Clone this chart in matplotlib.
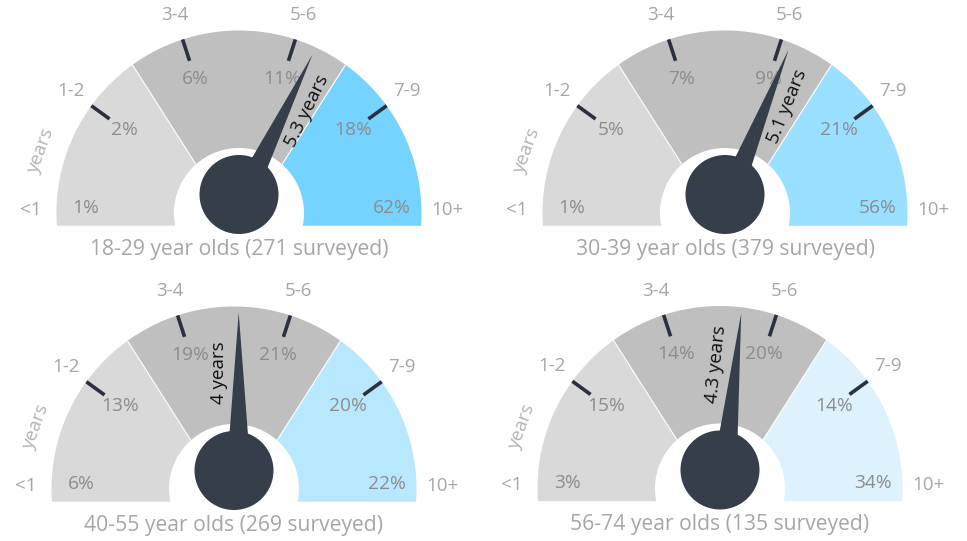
import numpy as np
import matplotlib
matplotlib.use('Agg')
import matplotlib.pyplot as plt
from matplotlib.patches import Polygon, Circle

# data
groups = ['18-29 year olds (271 surveyed)', '30-39 year olds (379 surveyed)',
          '40-55 year olds (269 surveyed)', '56-74 year olds (135 surveyed)']
categories = ['<1', '1-2', '3-4', '5-6', '7-9', '10+']
pct_1829 = [1, 2, 6, 11, 18, 62]
pct_3039 = [1, 5, 7, 9, 21, 56]
pct_4055 = [6, 13, 19, 21, 20, 22]
pct_5674 = [3, 15, 14, 20, 14, 34]
avg_years = [5.3, 5.1, 4.0, 4.3]
avg_labels = ['5.3 years', '5.1 years', '4 years', '4.3 years']

plt.rcParams['font.family'] = ['Open Sans', 'DejaVu Sans']

LIGHT = '#d9d9d9'
MID = '#bfbfbf'
BLUES = ['#75d3ff', '#99dfff', '#b8e8ff', '#ddf2fc']
DARK = '#353e49'
TICK = '#2b3040'
PCT_COL = '#8c8c8c'
LAB_COL = '#a6a6a6'

R_OUT, R_IN = 182.5, 65
CUT = 12.7         # ring runs a bit below its centre, cut flat
DROP = 19          # sector borders radiate from a point below the centre
HUB_UP, HUB_R = 18.5, 39.5
NEEDLE_LEN, NEEDLE_HW, NEEDLE_OFF = 158, 12, 4.7


def years_to_angle(y):
    # gauge scale: 4 years straight up, ~20 degrees per year
    return 90 - (y - 4) * 20


def ring_xy(cx, cy):
    a_out = np.degrees(np.arcsin(CUT / R_OUT))
    a_in = np.degrees(np.arcsin(CUT / R_IN))
    t_out = np.radians(np.linspace(-a_out, 180 + a_out, 300))
    t_in = np.radians(np.linspace(180 + a_in, -a_in, 150))
    xs = np.r_[cx + R_OUT * np.cos(t_out), cx + R_IN * np.cos(t_in)]
    ys = np.r_[cy + R_OUT * np.sin(t_out), cy + R_IN * np.sin(t_in)]
    return np.column_stack([xs, ys])


def fan(px, py, a0, a1, r=500):
    t = np.radians(np.linspace(a0, a1, 50))
    return np.r_[[[px, py]], np.column_stack([px + r * np.cos(t), py + r * np.sin(t)])]


def draw_gauge(ax, cx, cy, pcts, years, ylabel, title, blue):
    ring = ring_xy(cx, cy)
    px, py = cx, cy - DROP
    for col, (a0, a1) in zip([LIGHT, MID, blue], [(122.5, 240), (57.5, 122.5), (-60, 57.5)]):
        p = Polygon(ring, closed=True, facecolor=col, edgecolor='none', zorder=1)
        ax.add_patch(p)
        clip = Polygon(fan(px, py, a0, a1), closed=True, transform=ax.transData)
        p.set_clip_path(clip)
    # thin white borders between colour sectors
    clip_ring = Polygon(ring, closed=True, transform=ax.transData)
    for a in [122.5, 57.5]:
        t = np.radians(a)
        ln, = ax.plot([px, px + 400 * np.cos(t)], [py, py + 400 * np.sin(t)],
                      color='white', lw=0.8, zorder=2)
        ln.set_clip_path(clip_ring)

    tick_angles = [180 - 36 * i for i in range(len(categories))]
    for a in tick_angles[1:-1]:
        t = np.radians(a)
        ax.plot([cx + 160 * np.cos(t), cx + R_OUT * np.cos(t)],
                [cy + 160 * np.sin(t), cy + R_OUT * np.sin(t)],
                color=TICK, lw=2.6, solid_capstyle='butt', zorder=3)

    # category labels around the outside, percentages inside
    for i, (cat, v) in enumerate(zip(categories, pcts)):
        t = np.radians(tick_angles[i])
        ax.text(cx + 208 * np.cos(t), cy + 208 * np.sin(t) + (3 if i in (0, 5) else 0), cat,
                ha='center', va='center', fontsize=13.5, color=LAB_COL, zorder=4)
        if i == 0 or i == len(categories) - 1:
            r, ta = 153, tick_angles[i] + (-2 if i == 0 else 2)
        else:
            r, ta = 141, tick_angles[i]
        t = np.radians(ta)
        ax.text(cx + r * np.cos(t), cy + r * np.sin(t), f'{v}%',
                ha='center', va='center', fontsize=13.8, color=PCT_COL, zorder=4)

    ax.text(cx + 208 * np.cos(np.radians(162.7)), cy + 208 * np.sin(np.radians(162.7)), 'years',
            rotation=70, ha='center', va='center', fontsize=13.5, color='#b3b3b3', zorder=4)

    # needle, pivoting on the hub
    hx, hy = cx, cy + HUB_UP
    a = years_to_angle(years)
    u = np.array([np.cos(np.radians(a)), np.sin(np.radians(a))])
    n = np.array([u[1], -u[0]])
    base = np.array([hx, hy]) + NEEDLE_OFF * n
    tri = [base + NEEDLE_HW * n, base - NEEDLE_HW * n, base + NEEDLE_LEN * u]
    ax.add_patch(Polygon(tri, closed=True, facecolor=DARK, edgecolor='none', zorder=5))
    ax.add_patch(Circle((hx, hy), HUB_R, facecolor=DARK, edgecolor='none', zorder=6))
    side = 1 if a < 75 else -1
    tp = base + 66 * u + side * 20 * n
    ax.text(tp[0], tp[1], ylabel, rotation=a, rotation_mode='anchor',
            ha='left', va='center', fontsize=13.5, color='#111111', zorder=7)

    ax.text(cx, cy - 36, title, ha='center', va='center', fontsize=15.2, color=LAB_COL)


fig = plt.figure(figsize=(9.67, 5.41), dpi=100)
ax = fig.add_axes([0, 0, 1, 1])
ax.set_xlim(0, 967)
ax.set_ylim(0, 541)
ax.set_aspect('equal')
ax.axis('off')

centres = [(239, 328), (725, 328), (234, 52), (720, 52.5)]
all_pcts = [pct_1829, pct_3039, pct_4055, pct_5674]
for (cx, cy), pcts, yrs, lab, title, blue in zip(centres, all_pcts, avg_years, avg_labels, groups, BLUES):
    draw_gauge(ax, cx, cy, pcts, yrs, lab, title, blue)

fig.savefig('out.png', dpi=100)
